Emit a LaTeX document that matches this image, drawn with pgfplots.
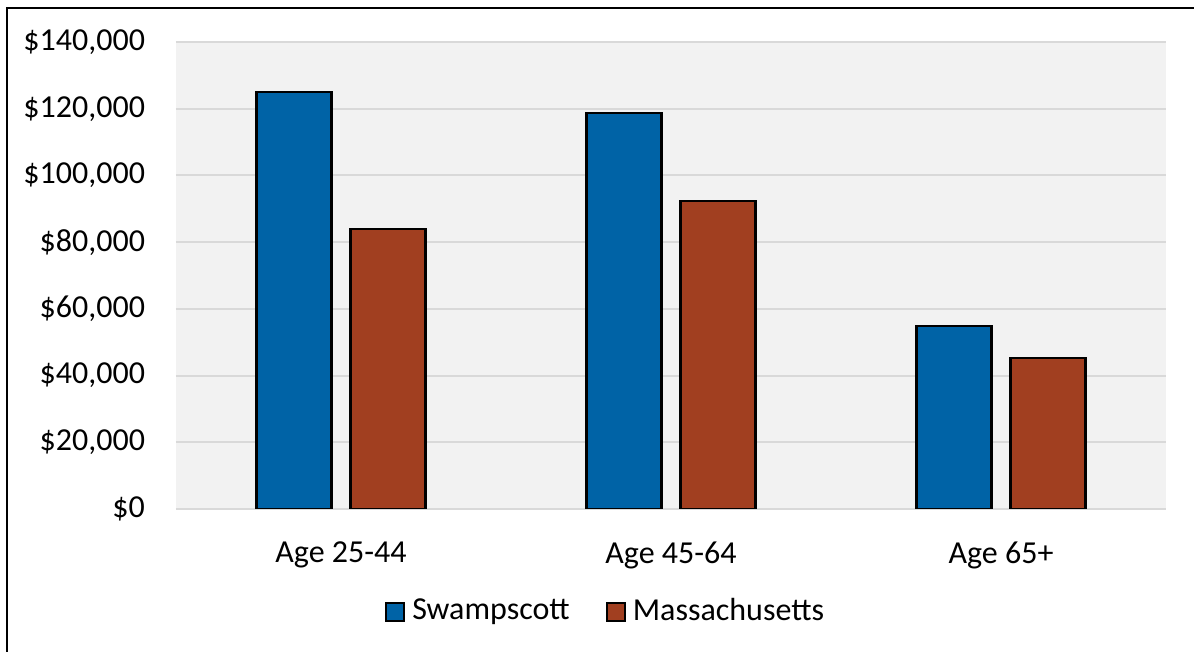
\documentclass[border=0pt]{standalone}
\usepackage{pgfplots}
\pgfplotsset{compat=1.18}
\usepackage{fontspec}
\setmainfont{Carlito}
\definecolor{swamp}{HTML}{0063A6}
\definecolor{mass}{HTML}{A13F20}
\definecolor{bggray}{HTML}{F2F2F2}
\definecolor{gridgray}{HTML}{D9D9D9}
\begin{document}
\fontsize{16}{19}\selectfont
\begin{tikzpicture}
\useasboundingbox (0,0) rectangle (597pt,326pt);
\fill[white] (0,0) rectangle (597pt,326pt);
\draw[line width=1pt] (3.5pt,-5pt) -- (3.5pt,322pt) -- (605pt,322pt);
\begin{axis}[
  at={(88pt,71.5pt)}, anchor=south west,
  scale only axis, width=495pt, height=233.5pt,
  xmin=-0.5, xmax=2.5, ymin=0, ymax=140000,
  scaled y ticks=false,
  axis background/.style={fill=bggray},
  axis line style={draw=none},
  major tick length=0pt,
  ymajorgrids, grid style={gridgray, line width=1pt},
  ytick={0,20000,40000,60000,80000,100000,120000,140000},
  yticklabels={{\$0},{\$20,000},{\$40,000},{\$60,000},{\$80,000},{\$100,000},{\$120,000},{\$140,000}},
  xtick={0,1,2},
  xticklabels={{Age 25-44},{Age 45-64},{Age 65+}},
  yticklabel style={anchor=east, xshift=-10pt, font=\fontsize{16}{19}\selectfont},
  xticklabel style={yshift=-11pt, font=\fontsize{16}{19}\selectfont},
  ybar, bar width=37.5pt,
  legend columns=2,
  legend style={at={(0.435,-0.22)}, anchor=center, draw=none, fill=none,
    font=\fontsize{16}{19}\selectfont,
    /tikz/every even column/.append style={column sep=16pt}},
  legend image code/.code={\draw[#1, line width=1pt] (0pt,-4.5pt) rectangle (9pt,4.5pt); \path (10.5pt,0pt);},
]
\addplot[fill=swamp, draw=black, line width=1.1pt, bar shift=-23.5pt] coordinates {(0,125000) (1,118700) (2,54900)};
\addlegendentry{Swampscott}
\addplot[fill=mass, draw=black, line width=1.1pt, bar shift=23.5pt] coordinates {(0,84000) (1,92300) (2,45300)};
\addlegendentry{Massachusetts}
\end{axis}
\end{tikzpicture}
\end{document}
